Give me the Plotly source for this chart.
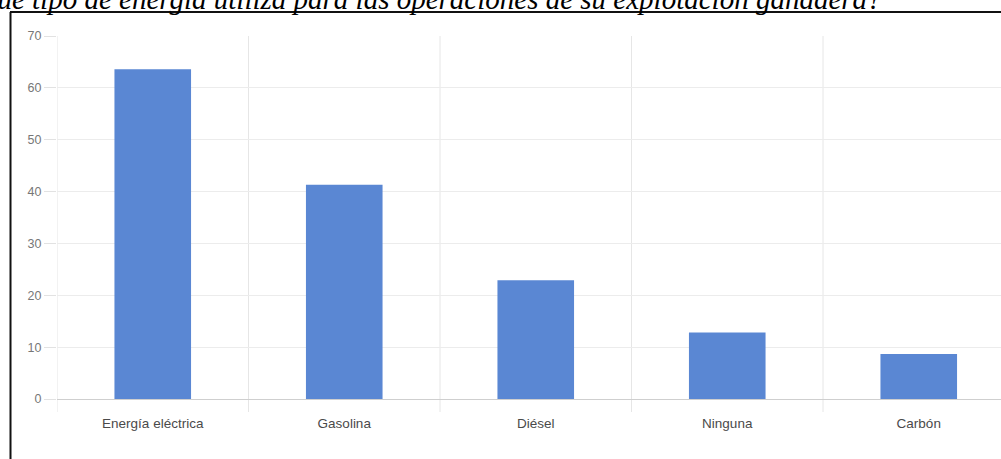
import plotly.graph_objects as go

# Survey answers: energy sources used on the livestock farm (%)
categories = ["Energía eléctrica", "Gasolina", "Diésel", "Ninguna", "Carbón"]
values = [63.6, 41.3, 22.9, 12.8, 8.7]
y_ticks = [0, 10, 20, 30, 40, 50, 60, 70]
question = "¿Qué tipo de energía utiliza para las operaciones de su explotación ganadera?"

W, H = 1001, 459
ML, MT, MB, MR = 57, 36, 60, 0
PW, PH = W - ML - MR, H - MT - MB


def px_x(x):
    return (x - ML) / PW


def px_y(y):
    return (H - MB - y) / PH


fig = go.Figure()
fig.add_trace(go.Bar(
    x=list(range(len(categories))),
    y=values,
    width=0.4,
    marker=dict(color="#5a87d3", line=dict(width=0)),
    hoverinfo="x+y",
))

# category slot width in pixels is ~191.5, the last slot runs past the right edge
slot = 191.5
x_end = -0.5 + PW / slot

fig.update_layout(
    width=W, height=H,
    margin=dict(l=ML, r=MR, t=MT, b=MB, pad=0),
    paper_bgcolor="white",
    plot_bgcolor="white",
    showlegend=False,
    font=dict(family="Liberation Sans, Arial, sans-serif"),
    xaxis=dict(
        tickmode="array",
        tickvals=list(range(len(categories))),
        ticktext=categories,
        range=[-0.5, x_end],
        showgrid=False,
        zeroline=False,
        showline=False,
        ticks="",
        ticklabelstandoff=14,
        tickfont=dict(size=13.5, color="#4a4a4a"),
    ),
    yaxis=dict(
        range=[0, 70],
        tickvals=y_ticks,
        showgrid=True,
        gridcolor="#ececec",
        gridwidth=1,
        zeroline=True,
        zerolinecolor="#cfcfcf",
        zerolinewidth=1,
        showline=False,
        ticks="outside",
        ticklen=12,
        tickcolor="#e2e2e2",
        tickfont=dict(size=12.5, color="#777777"),
    ),
)

# vertical separators between categories, extending a little below the baseline
shapes = []
for b in range(len(categories) + 1):
    xb = -0.5 + b
    if xb > x_end:
        break
    shapes.append(dict(
        type="line", xref="x", yref="paper",
        x0=xb, x1=xb, y0=px_y(412), y1=1,
        line=dict(color="#e6e6e6", width=1), layer="below",
    ))

# frame of the figure box
shapes.append(dict(type="line", xref="paper", yref="paper",
                   x0=px_x(10), x1=px_x(1001), y0=px_y(12), y1=px_y(12),
                   line=dict(color="#111111", width=2)))
shapes.append(dict(type="line", xref="paper", yref="paper",
                   x0=px_x(10.5), x1=px_x(10.5), y0=px_y(12), y1=px_y(470),
                   line=dict(color="#111111", width=2)))
fig.update_layout(shapes=shapes)

# caption line above the box (top part runs off the page)
fig.add_annotation(
    text="<i>" + question + "</i>",
    xref="paper", yref="paper",
    x=px_x(884), y=px_y(17),
    xanchor="right", yanchor="bottom",
    showarrow=False,
    font=dict(family="Liberation Serif, Times New Roman, serif", size=29, color="#000000"),
)

fig.write_html("out.html")
